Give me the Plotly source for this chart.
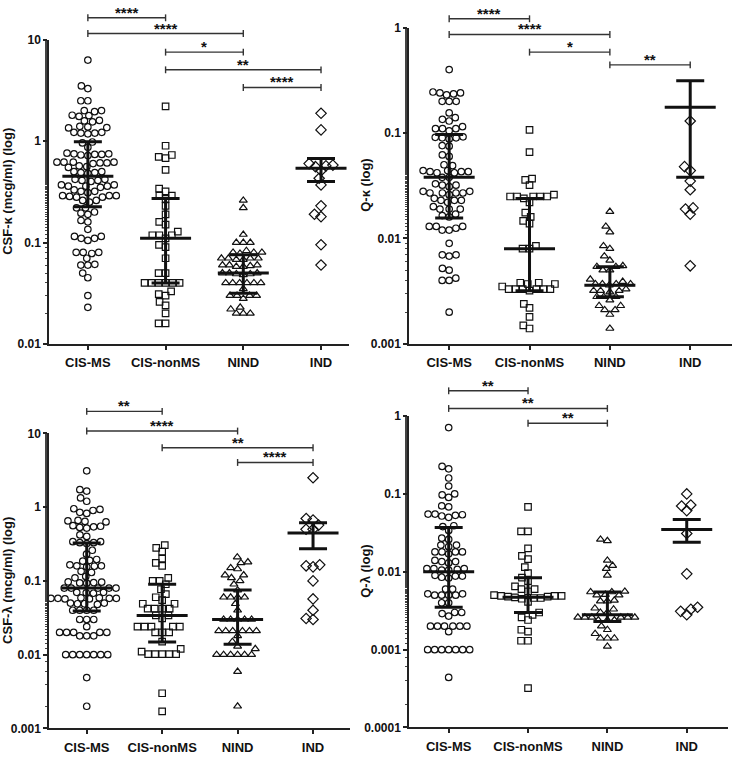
import math
import numpy as np
import plotly.graph_objects as go

W, H = 733, 761
categories = ["CIS-MS", "CIS-nonMS", "NIND", "IND"]

# ---------------- Panel A: CSF-kappa (mcg/ml) ----------------
csfk_cisms = [6.3, 3.5, 3.3, 2.5, 2.5, 2.0, 2.0, 1.95, 1.8, 1.78, 1.75, 1.6, 1.58, 1.55, 1.4, 1.38, 1.36, 1.35,
              1.22, 1.2, 1.2, 1.18, 1.22, 0.98, 0.96, 0.87, 0.76, 0.75, 0.74, 0.74, 0.73, 0.75, 0.72, 0.62, 0.62,
              0.61, 0.62, 0.6, 0.62, 0.61, 0.57, 0.56, 0.55, 0.5, 0.49, 0.48, 0.5, 0.49, 0.42, 0.41, 0.41, 0.4,
              0.42, 0.37, 0.36, 0.36, 0.35, 0.37, 0.36, 0.32, 0.32, 0.31, 0.33, 0.29, 0.28, 0.285, 0.29, 0.28,
              0.29, 0.26, 0.26, 0.25, 0.22, 0.22, 0.2, 0.19, 0.195, 0.165, 0.16, 0.135, 0.115, 0.11, 0.11, 0.105,
              0.115, 0.08, 0.08, 0.08, 0.078, 0.07, 0.06, 0.061, 0.06, 0.05, 0.045, 0.03, 0.023]
csfk_cisnonms = [2.2, 0.9, 0.73, 0.68, 0.7, 0.52, 0.34, 0.32, 0.29, 0.29, 0.27, 0.23, 0.19, 0.16, 0.15, 0.128,
                 0.118, 0.118, 0.118, 0.11, 0.095, 0.09, 0.07, 0.05, 0.05, 0.04, 0.04, 0.04, 0.04, 0.04, 0.04,
                 0.033, 0.031, 0.03, 0.026, 0.024, 0.02, 0.016, 0.016]
csfk_nind = [0.26, 0.22, 0.12, 0.1, 0.1, 0.1, 0.083, 0.08, 0.08, 0.08, 0.078, 0.07, 0.07, 0.07, 0.07, 0.068,
             0.068, 0.06, 0.06, 0.06, 0.059, 0.058, 0.058, 0.05, 0.05, 0.05, 0.049, 0.049, 0.048, 0.04, 0.04,
             0.04, 0.04, 0.04, 0.04, 0.035, 0.03, 0.03, 0.03, 0.03, 0.028, 0.023, 0.022, 0.02, 0.02, 0.02]
csfk_ind = [1.88, 1.29, 0.6, 0.58, 0.56, 0.57, 0.51, 0.43, 0.37, 0.23, 0.18, 0.19, 0.095, 0.06]
csfk_median = [0.45, 0.11, 0.05, 0.54]
csfk_q1 = [0.226, 0.04, 0.0316, 0.40]
csfk_q3 = [0.985, 0.272, 0.076, 0.675]
csfk_tests = [(0, 1, "****"), (0, 2, "****"), (1, 2, "*"), (1, 3, "**"), (2, 3, "****")]

# ---------------- Panel B: Q-kappa ----------------
qk_cisms = [0.40, 0.245, 0.24, 0.24, 0.235, 0.23, 0.2, 0.2, 0.2, 0.155, 0.135, 0.13, 0.14, 0.11, 0.115, 0.105,
            0.11, 0.11, 0.09, 0.092, 0.088, 0.09, 0.091, 0.076, 0.075, 0.062, 0.06, 0.049, 0.05, 0.043, 0.044,
            0.042, 0.043, 0.044, 0.043, 0.042, 0.038, 0.038, 0.032, 0.033, 0.032, 0.031, 0.027, 0.027, 0.028,
            0.026, 0.027, 0.027, 0.028, 0.023, 0.023, 0.022, 0.024, 0.023, 0.019, 0.019, 0.02, 0.019, 0.0165,
            0.016, 0.017, 0.013, 0.013, 0.012, 0.0125, 0.013, 0.012, 0.009, 0.007, 0.007, 0.0068, 0.0052,
            0.005, 0.004, 0.0042, 0.004, 0.002]
qk_cisnonms = [0.107, 0.066, 0.037, 0.036, 0.032, 0.026, 0.025, 0.025, 0.025, 0.025, 0.025, 0.024, 0.022,
               0.0176, 0.016, 0.0147, 0.0138, 0.0085, 0.008, 0.008, 0.0038, 0.0038, 0.0037, 0.0037, 0.0035,
               0.0033, 0.0033, 0.0033, 0.0033, 0.0033, 0.0033, 0.0032, 0.0024, 0.0022, 0.0018, 0.0015, 0.0014]
qk_nind = [0.018, 0.013, 0.0115, 0.0085, 0.008, 0.0068, 0.0062, 0.0055, 0.0054, 0.0054, 0.005, 0.005, 0.0041,
           0.0039, 0.0037, 0.0037, 0.0037, 0.0037, 0.0036, 0.0033, 0.0032, 0.0032, 0.0032, 0.0031, 0.0028,
           0.0028, 0.0028, 0.0026, 0.0023, 0.0023, 0.0021, 0.0021, 0.0019, 0.0014]
qk_ind = [0.13, 0.048, 0.044, 0.035, 0.029, 0.0195, 0.019, 0.017, 0.0055]
qk_median = [0.038, 0.008, 0.0036, 0.176]
qk_q1 = [0.0156, 0.0032, 0.0028, 0.038]
qk_q3 = [0.097, 0.0239, 0.0054, 0.314]
qk_tests = [(0, 1, "****"), (0, 2, "****"), (1, 2, "*"), (2, 3, "**")]

# ---------------- Panel C: CSF-lambda (mcg/ml) ----------------
csfl_cisms = [3.1, 1.72, 1.65, 1.33, 1.2, 0.95, 0.9, 0.85, 0.93, 0.82, 0.66, 0.65, 0.63, 0.64, 0.55, 0.54, 0.53,
              0.56, 0.52, 0.42, 0.4, 0.34, 0.33, 0.33, 0.32, 0.34, 0.26, 0.23, 0.19, 0.195, 0.185, 0.16, 0.165,
              0.155, 0.16, 0.158, 0.135, 0.13, 0.11, 0.115, 0.095, 0.097, 0.093, 0.096, 0.094, 0.08, 0.08, 0.08,
              0.08, 0.08, 0.069, 0.07, 0.068, 0.07, 0.058, 0.058, 0.057, 0.059, 0.058, 0.057, 0.059, 0.058,
              0.049, 0.05, 0.048, 0.049, 0.05, 0.04, 0.04, 0.04, 0.04, 0.03, 0.03, 0.03, 0.024, 0.02, 0.02,
              0.02, 0.02, 0.02, 0.018, 0.018, 0.018, 0.01, 0.01, 0.01, 0.01, 0.01, 0.01, 0.01, 0.0049, 0.002]
csfl_cisnonms = [0.305, 0.28, 0.25, 0.2, 0.175, 0.16, 0.11, 0.1, 0.1, 0.09, 0.077, 0.066, 0.06, 0.055, 0.049,
                 0.049, 0.042, 0.042, 0.042, 0.042, 0.034, 0.034, 0.031, 0.024, 0.024, 0.024, 0.024, 0.024,
                 0.02, 0.02, 0.02, 0.015, 0.012, 0.0102, 0.0102, 0.0102, 0.0102, 0.0102, 0.011, 0.003, 0.0017]
csfl_nind = [0.21, 0.18, 0.175, 0.15, 0.145, 0.12, 0.12, 0.11, 0.1, 0.09, 0.075, 0.06, 0.06, 0.06, 0.06, 0.049,
             0.04, 0.03, 0.03, 0.03, 0.03, 0.03, 0.021, 0.021, 0.021, 0.021, 0.021, 0.021, 0.018, 0.015, 0.013,
             0.012, 0.01, 0.01, 0.01, 0.01, 0.01, 0.01, 0.0059, 0.002]
csfl_ind = [2.5, 0.7, 0.67, 0.57, 0.5, 0.5, 0.16, 0.155, 0.165, 0.1, 0.057, 0.04, 0.03, 0.031]
csfl_median = [0.08, 0.034, 0.03, 0.445]
csfl_q1 = [0.039, 0.0148, 0.0139, 0.273]
csfl_q3 = [0.327, 0.09, 0.075, 0.615]
csfl_tests = [(0, 1, "**"), (0, 2, "****"), (1, 3, "**"), (2, 3, "****")]

# ---------------- Panel D: Q-lambda ----------------
ql_cisms = [0.71, 0.225, 0.21, 0.16, 0.126, 0.097, 0.1, 0.09, 0.07, 0.068, 0.055, 0.054, 0.052, 0.055, 0.05,
            0.053, 0.038, 0.039, 0.034, 0.026, 0.027, 0.022, 0.022, 0.021, 0.018, 0.018, 0.018, 0.017, 0.018,
            0.0135, 0.013, 0.014, 0.0135, 0.011, 0.0105, 0.0107, 0.011, 0.0105, 0.011, 0.0088, 0.009, 0.0088,
            0.0085, 0.0083, 0.006, 0.006, 0.005, 0.005, 0.0052, 0.005, 0.005, 0.0052, 0.004, 0.004, 0.003,
            0.003, 0.0029, 0.0027, 0.002, 0.002, 0.002, 0.002, 0.002, 0.002, 0.0017, 0.001, 0.001, 0.001,
            0.001, 0.001, 0.001, 0.001, 0.00044]
ql_cisnonms = [0.068, 0.033, 0.033, 0.02, 0.016, 0.0145, 0.0115, 0.0096, 0.0084, 0.0076, 0.0065, 0.006, 0.006,
               0.0056, 0.0049, 0.0049, 0.0048, 0.005, 0.0049, 0.0048, 0.0046, 0.0046, 0.0047, 0.0045, 0.0041,
               0.003, 0.0028, 0.0026, 0.0024, 0.0017, 0.0018, 0.0013, 0.0013, 0.00032]
ql_nind = [0.026, 0.025, 0.014, 0.012, 0.011, 0.009, 0.0055, 0.0055, 0.0056, 0.005, 0.005, 0.0051, 0.0042,
           0.0042, 0.0043, 0.0033, 0.0034, 0.003, 0.003, 0.0026, 0.0026, 0.0026, 0.0026, 0.0026, 0.0026,
           0.0024, 0.0024, 0.0024, 0.002, 0.0018, 0.0016, 0.0014, 0.0014, 0.0014, 0.0011]
ql_ind = [0.1, 0.07, 0.072, 0.061, 0.031, 0.0094, 0.0033, 0.0028, 0.0031, 0.0035]
ql_median = [0.01, 0.0047, 0.0028, 0.035]
ql_q1 = [0.0035, 0.003, 0.0023, 0.024]
ql_q3 = [0.037, 0.0084, 0.0055, 0.047]
ql_tests = [(0, 1, "**"), (0, 2, "**"), (1, 2, "**")]

# ---------------- layout / style (pixels) ----------------
FONT = "Arial, Liberation Sans, sans-serif"
INK = "#111111"
symbols = ["circle-open", "square-open", "triangle-up-open", "diamond-open"]
sym_size = [6.5, 6.5, 7, 8]

panels = [
    dict(groups=[csfk_cisms, csfk_cisnonms, csfk_nind, csfk_ind], med=csfk_median, q1=csfk_q1, q3=csfk_q3,
         tests=csfk_tests, title="CSF-κ (mcg/ml) (log)",
         px=(49, 349), py=(33.3, 343.3), xr=(-0.5, 3.36), dec=(-2, 1),
         ticks=[0.01, 0.1, 1, 10], ticktext=["0.01", "0.1", "1", "10"],
         bracket_py=[11, 27, 46, 64, 82], title_x=8),
    dict(groups=[qk_cisms, qk_cisnonms, qk_nind, qk_ind], med=qk_median, q1=qk_q1, q3=qk_q3,
         tests=qk_tests, title="Q-κ (log)",
         px=(409, 732), py=(21, 343.2), xr=(-0.5, 3.52), dec=(-3, 0),
         ticks=[0.001, 0.01, 0.1, 1], ticktext=["0.001", "0.01", "0.1", "1"],
         bracket_py=[12, 28, 46, 59], title_x=366),
    dict(groups=[csfl_cisms, csfl_cisnonms, csfl_nind, csfl_ind], med=csfl_median, q1=csfl_q1, q3=csfl_q3,
         tests=csfl_tests, title="CSF-λ (mcg/ml) (log)",
         px=(49, 350), py=(434.3, 735), xr=(-0.5, 3.49), dec=(-3, 1),
         ticks=[0.001, 0.01, 0.1, 1, 10], ticktext=["0.001", "0.01", "0.1", "1", "10"],
         bracket_py=[412, 432, 449, 464], title_x=8),
    dict(groups=[ql_cisms, ql_cisnonms, ql_nind, ql_ind], med=ql_median, q1=ql_q1, q3=ql_q3,
         tests=ql_tests, title="Q-λ (log)",
         px=(409, 728), py=(416.7, 734), xr=(-0.5, 3.52), dec=(-4, 0),
         ticks=[0.0001, 0.001, 0.01, 0.1, 1], ticktext=["0.0001", "0.001", "0.01", "0.1", "1"],
         bracket_py=[391, 409, 424], title_x=366),
]


def swarm(vals, ppd, ppu, d=7.0):
    """Beeswarm offsets (in x data units) for values on a log axis."""
    ys = np.log10(np.asarray(vals, dtype=float)) * ppd
    order = np.argsort(ys, kind="stable")
    px_list, py_list = [], []
    xs = np.zeros(len(ys))
    for i in order:
        y = ys[i]
        iv = []
        for qx, qy in zip(px_list, py_list):
            dy = abs(qy - y)
            if dy < d:
                h = math.sqrt(d * d - dy * dy)
                iv.append((qx - h, qx + h))
        cands = [0.0] + [a for a, b in iv] + [b for a, b in iv]
        cands.sort(key=lambda c: (round(abs(c), 6), c))
        chosen = 0.0
        for c in cands:
            if all(not (a + 1e-6 < c < b - 1e-6) for a, b in iv):
                chosen = c
                break
        xs[i] = chosen
        px_list.append(chosen)
        py_list.append(y)
    return xs / ppu


fig = go.Figure()
layout = dict(width=W, height=H, margin=dict(l=0, r=0, t=0, b=0), paper_bgcolor="white",
              plot_bgcolor="white", showlegend=False, font=dict(family=FONT, color=INK))
shapes, annotations = [], []

for k, p in enumerate(panels):
    n = k + 1
    xa = "x" if n == 1 else f"x{n}"
    ya = "y" if n == 1 else f"y{n}"
    x0, x1 = p["px"]
    ytop, ybot = p["py"]
    ppu = (x1 - x0) / (p["xr"][1] - p["xr"][0])
    ppd = (ybot - ytop) / (p["dec"][1] - p["dec"][0])

    for g, vals in enumerate(p["groups"]):
        off = swarm(vals, ppd, ppu)
        fig.add_trace(go.Scatter(
            x=g + off, y=vals, mode="markers", xaxis=xa, yaxis=ya, hoverinfo="skip",
            marker=dict(symbol=symbols[g], size=sym_size[g], color=INK, line=dict(width=1.2, color=INK))))

    med = np.array(p["med"])
    fig.add_trace(go.Scatter(
        x=list(range(4)), y=med, mode="markers", xaxis=xa, yaxis=ya, hoverinfo="skip",
        marker=dict(symbol="line-ew", size=51 / 1.4, color=INK, line=dict(width=3, color=INK)),
        error_y=dict(type="data", symmetric=False, array=np.array(p["q3"]) - med,
                     arrayminus=med - np.array(p["q1"]), color=INK, thickness=3, width=14)))

    layout["xaxis" if n == 1 else f"xaxis{n}"] = dict(
        domain=[x0 / W, x1 / W], range=list(p["xr"]), anchor=ya,
        tickmode="array", tickvals=list(range(4)), ticktext=categories,
        showline=True, linecolor="#222", linewidth=1.5, ticks="outside", ticklen=4, tickwidth=1.5,
        tickcolor="#222", showgrid=False, zeroline=False, ticklabelstandoff=2,
        tickfont=dict(family=FONT, size=13, color=INK, weight="bold"))
    layout["yaxis" if n == 1 else f"yaxis{n}"] = dict(
        type="log", domain=[1 - ybot / H, 1 - ytop / H], range=list(p["dec"]), anchor=xa,
        tickmode="array", tickvals=p["ticks"], ticktext=p["ticktext"],
        showline=True, linecolor="#222", linewidth=1.5, ticks="outside", ticklen=4, tickwidth=1.5,
        tickcolor="#222", showgrid=False, zeroline=False,
        minor=dict(ticks="outside", ticklen=2.5, tickwidth=1, tickcolor="#444", showgrid=False),
        tickfont=dict(family=FONT, size=12, color=INK, weight="bold"))

    annotations.append(dict(
        text=p["title"], textangle=-90, xref="paper", yref="paper", x=p["title_x"] / W,
        y=1 - (ytop + ybot) / 2 / H, xanchor="center", yanchor="middle", showarrow=False,
        font=dict(family=FONT, size=13, color=INK, weight="bold")))

    for (a, b, lab), bpy in zip(p["tests"], p["bracket_py"]):
        yl = 1 - bpy / H
        shapes.append(dict(type="line", xref=xa, yref="paper", x0=a, x1=b, y0=yl, y1=yl,
                           line=dict(color="#333", width=1.4)))
        for xe in (a, b):
            shapes.append(dict(type="line", xref=xa, yref="paper", x0=xe, x1=xe,
                               y0=1 - (bpy - 3.5) / H, y1=1 - (bpy + 3.5) / H,
                               line=dict(color="#333", width=1.4)))
        annotations.append(dict(
            text=lab, xref=xa, yref="paper", x=(a + b) / 2, y=yl, xanchor="center", yanchor="bottom",
            yshift=-5, showarrow=False, font=dict(family=FONT, size=15, color=INK, weight="bold")))

layout["shapes"] = shapes
layout["annotations"] = annotations
fig.update_layout(**layout)
fig.write_html("out.html", config={"displayModeBar": False},
               post_script="document.body.style.margin='0';document.body.style.overflow='hidden';")
